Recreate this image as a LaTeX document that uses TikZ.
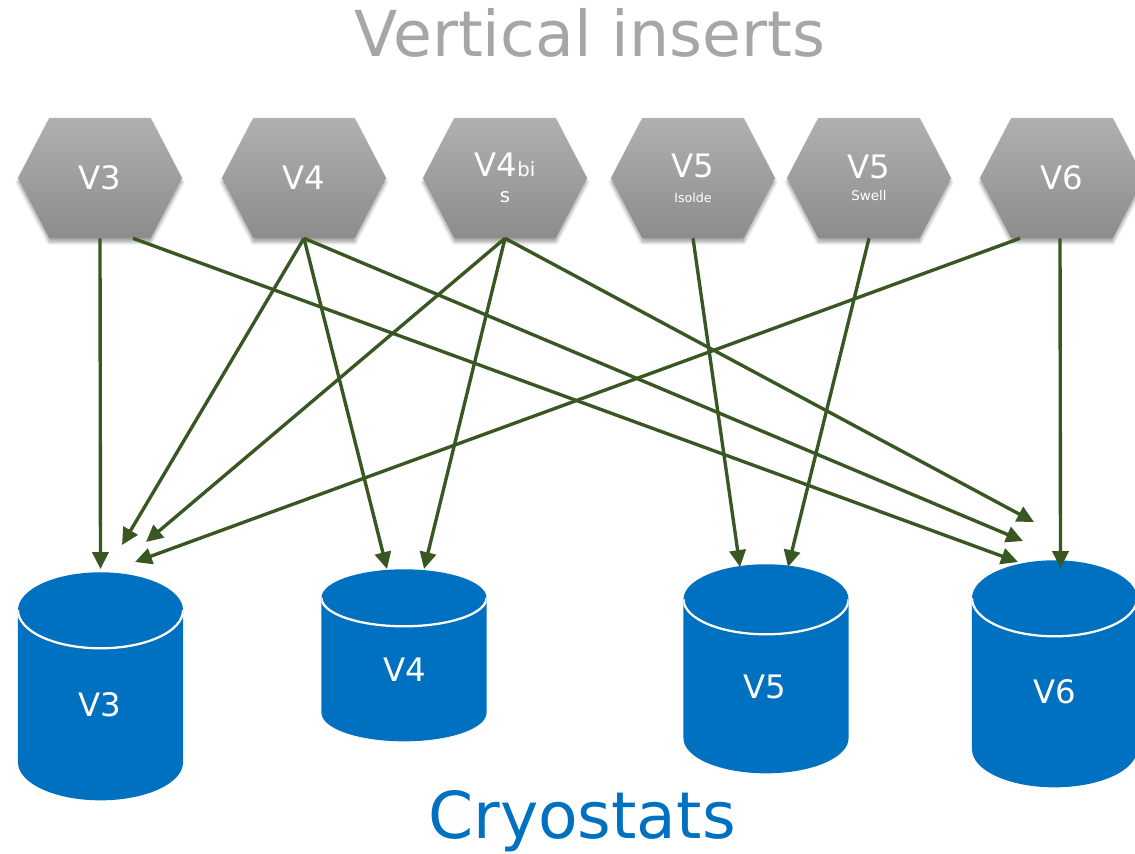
\documentclass[tikz,border=0pt]{standalone}
\usepackage{fontspec}
\setmainfont{DejaVu Sans}
\usetikzlibrary{arrows.meta,calc,shapes.symbols,shadows.blur}

\definecolor{insertgray}{HTML}{A6A6A6}
\definecolor{hextop}{HTML}{B0B0B0}
\definecolor{hexbottom}{HTML}{8C8C8C}
\definecolor{cryoblue}{HTML}{0070C0}
\definecolor{linkgreen}{HTML}{385723}

\tikzset{
  insert/.style={signal, signal to=east and west, signal pointer angle=125,
    minimum width=4.1cm, minimum height=3cm, inner sep=0pt,
    top color=hextop, bottom color=hexbottom, text=white,
    font=\fontsize{23}{18}\selectfont, align=center,
    blur shadow={shadow xshift=0pt, shadow yshift=-3pt, shadow blur steps=6, shadow opacity=35}},
  cryostat/.style 2 args={rectangle, minimum width=4.125cm, minimum height=#1,
    inner sep=0pt, anchor=north,
    path picture={
      \fill[cryoblue] ([yshift=-#2]path picture bounding box.north west)
        -- ([yshift=#2]path picture bounding box.south west)
        arc[start angle=180, end angle=360, x radius=2.0625cm, y radius=#2]
        -- ([yshift=-#2]path picture bounding box.north east)
        arc[start angle=0, end angle=180, x radius=2.0625cm, y radius=#2] -- cycle;
      \draw[-, white, line width=1.6pt] ([yshift=-#2]path picture bounding box.north west)
        arc[start angle=180, end angle=360, x radius=2.0625cm, y radius=#2];
    }},
  cryolabel/.style={text=white, font=\fontsize{23}{26}\selectfont},
  link/.style={linkgreen, line width=2.4pt}
}

\begin{document}
\begin{tikzpicture}[->,>={Triangle[length=12pt,width=11.5pt]},x=0.025cm,y=-0.025cm]
  \useasboundingbox (0,0) rectangle (1135,853);
  \node[text=insertgray, font=\fontsize{45}{54}\selectfont, anchor=base] (title) at (590,57) {Vertical inserts};
  \node[text=cryoblue, font=\fontsize{46}{55}\selectfont, anchor=base] (cryo) at (582,838) {Cryostats};

  \node[insert] (iV3) at (100,178) {V3};
  \node[insert] (iV4) at (304,178) {V4};
  \node[insert] (iV4b) at (505,178) {V4{\fontsize{14}{16}\selectfont bi}\\{\fontsize{14}{16}\selectfont s}};
  \node[insert] (iV5i) at (693,178) {V5\\{\fontsize{9}{10}\selectfont Isolde}};
  \node[insert] (iV5s) at (869,178) {V5\\[-2pt]{\fontsize{9.5}{10}\selectfont Swell}};
  \node[insert] (iV6) at (1062,178) {V6};

  \node[cryostat={5.7cm}{0.95cm}] (cV3) at (100.5,572) {};
  \node[cryostat={4.3cm}{0.7125cm}] (cV4) at (404,569) {};
  \node[cryostat={5.225cm}{0.875cm}] (cV5) at (766,564) {};
  \node[cryostat={5.675cm}{0.95cm}] (cV6) at (1054.5,560) {};
  \node[cryolabel] (lV3) at (100,705) {V3};
  \node[cryolabel] (lV4) at (405,670) {V4};
  \node[cryolabel] (lV5) at (765,687) {V5};
  \node[cryolabel] (lV6) at (1055,692) {V6};

  \draw[link] (iV3.south) -- ($(cV3.north)+(0,-3)$);
  \draw[link] ($(iV3.south)+(33,0)$) -- ($(cV6.north)+(-36.5,2)$);
  \draw[link] (iV4.south) -- ($(cV3.north)+(21.5,-27)$);
  \draw[link] (iV4.south) -- ($(cV4.north)+(-17,0)$);
  \draw[link] (iV4.south) -- ($(cV6.north)+(-31.5,-19)$);
  \draw[link] (iV4b.south) -- ($(cV3.north)+(45.5,-30)$);
  \draw[link] (iV4b.south) -- ($(cV4.north)+(20,0)$);
  \draw[link] (iV4b.south) -- ($(cV6.north)+(-20.5,-38)$);
  \draw[link] (iV5i.south) -- ($(cV5.north)+(-26,3)$);
  \draw[link] (iV5s.south) -- ($(cV5.north)+(22,3)$);
  \draw[link] ($(iV6.south)+(-42,0)$) -- ($(cV3.north)+(34.5,-10)$);
  \draw[link] ($(iV6.south)+(-2,0)$) -- ($(cV6.north)+(6,8)$);
\end{tikzpicture}
\end{document}
